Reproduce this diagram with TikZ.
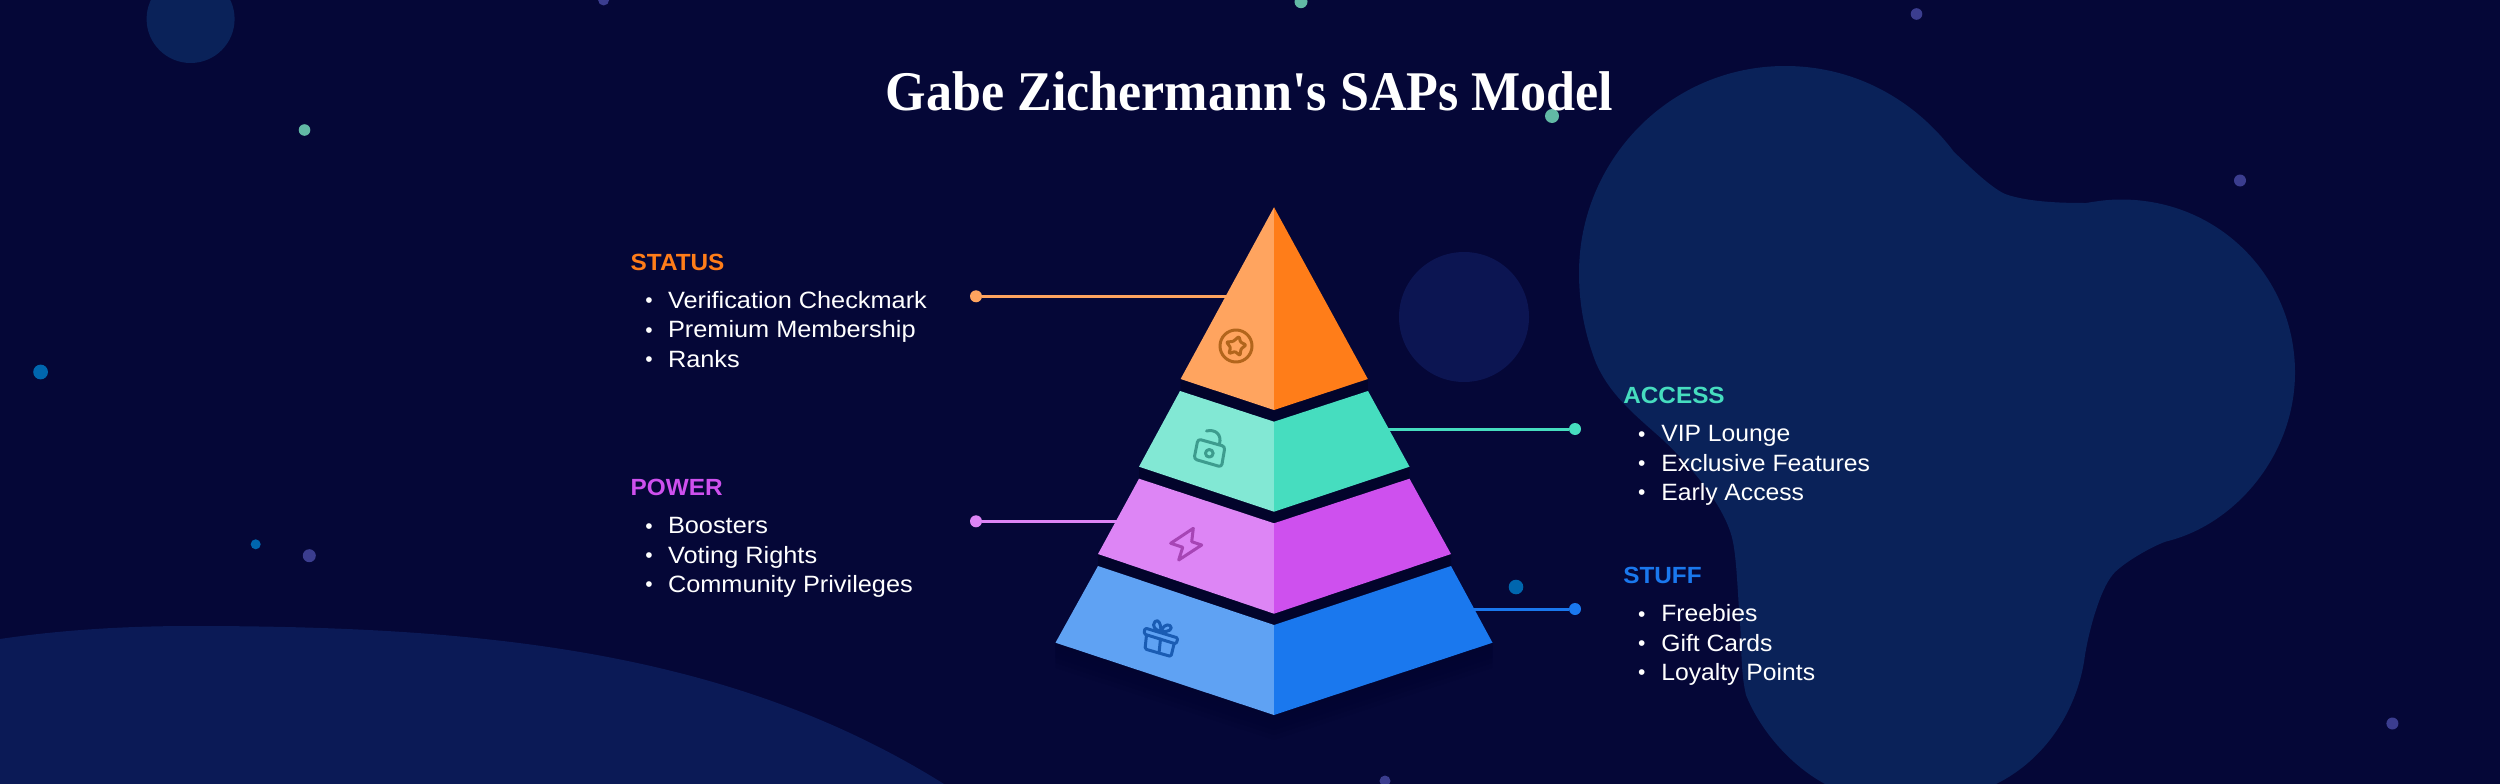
\documentclass[tikz,border=0pt]{standalone}
\usepackage{fontspec}
\setmainfont{Liberation Sans}
\newfontfamily\titlefont[FakeStretch=0.93]{Liberation Serif}
\newfontfamily\bodyL[FakeStretch=1.073]{Liberation Sans}
\newfontfamily\bodyR[FakeStretch=1.047]{Liberation Sans}
\newfontfamily\headf[FakeStretch=1.04]{Liberation Sans}
\definecolor{bgc}{HTML}{050737}
\definecolor{blobc}{HTML}{0A2259}
\definecolor{blobb}{HTML}{0B1A56}
\definecolor{circc}{HTML}{0C1552}
\definecolor{gapc}{HTML}{02042B}
\definecolor{dotblue}{HTML}{0066AE}
\definecolor{dotteal}{HTML}{62B9A5}
\definecolor{dotind}{HTML}{3B3D8F}
\definecolor{orL}{HTML}{FFA45F}
\definecolor{orR}{HTML}{FF7D19}
\definecolor{teL}{HTML}{82E8D4}
\definecolor{teR}{HTML}{46DDBF}
\definecolor{puL}{HTML}{DD85F5}
\definecolor{puR}{HTML}{CE50EE}
\definecolor{blL}{HTML}{5FA2F3}
\definecolor{blR}{HTML}{1A78EE}
\definecolor{icoOr}{HTML}{B2651C}
\definecolor{icoTe}{HTML}{3D9C8E}
\definecolor{icoPu}{HTML}{A645B5}
\definecolor{icoBl}{HTML}{1A5CB3}
\tikzset{
  txtL/.style={inner sep=0pt,outer sep=0pt,anchor=base west,font=\bodyL\fontsize{23.6}{24}\selectfont,text=white},
  txtR/.style={inner sep=0pt,outer sep=0pt,anchor=base west,font=\bodyR\fontsize{23.6}{24}\selectfont,text=white},
  bul/.style={inner sep=0pt,outer sep=0pt,anchor=base,font=\fontsize{21}{24}\selectfont,text=white},
  head/.style={inner sep=0pt,outer sep=0pt,anchor=base west,font=\headf\fontsize{23.4}{24}\selectfont\bfseries},
  enddot/.style={circle,inner sep=0pt,outer sep=0pt,minimum size=12pt,fill=#1},
  conn/.style={line width=3pt,draw=#1},
  icon/.style={line width=3pt,draw=#1,line join=round,line cap=round},
  ttl/.style={inner sep=0pt,outer sep=0pt,anchor=base,text=white,font=\titlefont\fontsize{56}{60}\selectfont\bfseries}
}
\begin{document}
\begin{tikzpicture}[x=1pt,y=-1pt]
\useasboundingbox (0,0) rectangle (2500,784);
\clip (0,0) rectangle (2500,784);
\fill[bgc] (0,0) rectangle (2500,784);
% background shapes
\fill[blobc] (1785,66) .. controls (1855,66) and (1915,100) .. (1954,152)
  .. controls (1970,167) and (1990,187) .. (2005,194)
  .. controls (2030,203) and (2070,203) .. (2086,203)
  .. controls (2098,201) and (2108,199.5) .. (2121,199.5)
  .. controls (2220,199.5) and (2295,278) .. (2295,372.5)
  .. controls (2295,455) and (2235,525) .. (2166,541.5)
  .. controls (2150,547) and (2120,565) .. (2112.5,575)
  .. controls (2100,590) and (2089,630) .. (2085,655)
  .. controls (2078,710) and (2045,760) .. (1996,784)
  -- (1825,784)
  .. controls (1790,765) and (1760,730) .. (1746,695)
  .. controls (1740,670) and (1742,640) .. (1739,609)
  .. controls (1737,580) and (1736,550) .. (1731,534)
  .. controls (1722,505) and (1695,470) .. (1662,439)
  .. controls (1635,415) and (1610,395) .. (1596,363)
  .. controls (1585,335) and (1579,305) .. (1579,273)
  .. controls (1579,160) and (1670,66) .. (1785,66) -- cycle;
\fill[blobb] (0,639) .. controls (60,630) and (125,626) .. (191,626)
  .. controls (480,626) and (730,650) .. (944,784) -- (0,784) -- cycle;
\fill[blobc] (190.6,19) circle[radius=44];
\fill[circc] (1464,317) circle[radius=65];
% dots
\foreach \x/\y/\r/\c in {304.5/130/5.8/dotteal,1301/1.7/6.5/dotteal,1552/116/7/dotteal,
  40.6/372/7.4/dotblue,255.7/544.3/5/dotblue,1516/587/7.3/dotblue,
  603.6/0/5.5/dotind,309.3/555.7/6.5/dotind,1916.5/14/5.8/dotind,2240/180.5/6/dotind,2392.4/723.5/6/dotind,1385/781/5.5/dotind}
  \fill[\c] (\x,\y) circle[radius=\r];
% pyramid shadows
\foreach \d in {5,10,15,20,25}
  \fill[gapc,fill opacity=0.10] (1055.5,642.7) -- (1055.5,642.7+\d) -- (1274,715+\d) -- (1492.5,642.7+\d) -- (1492.5,642.7) -- cycle;
\fill[gapc] (1180.6,379) -- (1180.6,391) -- (1274,422) -- (1367.8,391) -- (1367.8,379) -- (1274,410) -- cycle;
\fill[gapc] (1139,466.7) -- (1139,479) -- (1274,524) -- (1409.5,479) -- (1409.5,466.7) -- (1274,511.7) -- cycle;
\fill[gapc] (1098,554) -- (1098,566) -- (1274,625.5) -- (1451,566) -- (1451,554) -- (1274,613.7) -- cycle;
% connectors (under pyramid)
\node[enddot=orL] (statusdot) at (976,296.3) {};
\coordinate (statusend) at (1235,296.3);
\draw[conn=orL] (statusdot) -- (statusend);
\node[enddot=teR] (accessdot) at (1575,429) {};
\coordinate (accessend) at (1380,429);
\draw[conn=teR] (accessdot) -- (accessend);
\node[enddot=puL] (powerdot) at (976,521.3) {};
\coordinate (powerend) at (1125,521.3);
\draw[conn=puL] (powerdot) -- (powerend);
\node[enddot=blR] (stuffdot) at (1575,609) {};
\coordinate (stuffend) at (1465,609);
\draw[conn=blR] (stuffdot) -- (stuffend);
% pyramid
\fill[orL] (1274,207.3) -- (1180.6,379) -- (1274,410) -- cycle;
\fill[orR] (1274,207.3) -- (1367.8,379) -- (1274,410) -- cycle;
\fill[teL] (1274,421.7) -- (1180,391) -- (1139,466.7) -- (1274,511.7) -- cycle;
\fill[teR] (1274,421.7) -- (1368,391) -- (1409.5,466.7) -- (1274,511.7) -- cycle;
\fill[puL] (1274,523.3) -- (1139,478.7) -- (1098,554) -- (1274,613.7) -- cycle;
\fill[puR] (1274,523.3) -- (1409.5,478.7) -- (1451,554) -- (1274,613.7) -- cycle;
\fill[blL] (1274,625) -- (1098,566) -- (1055.5,642.7) -- (1274,715) -- cycle;
\fill[blR] (1274,625) -- (1451,566) -- (1492.5,642.7) -- (1274,715) -- cycle;
% icons
\draw[icon=icoOr] (1236,346) circle[radius=16];
\draw[icon=icoOr,rounded corners=1pt] (1239,336.5) -- (1240.5,342) -- (1246,345) -- (1241,349) -- (1240,355.5) -- (1235,351.5) -- (1229,353.5) -- (1230.5,347.5) -- (1226.5,342) -- (1233,341.5) -- cycle;
\draw[icon=icoTe,rounded corners=3pt] (1198,439) -- (1225,446.5) -- (1221.5,467) -- (1194,459) -- cycle;
\draw[icon=icoTe] (1209.3,453.3) circle[radius=3.8];
\draw[icon=icoTe] (1219.5,444) .. controls (1222,434) and (1215,429) .. (1206.5,431);
\draw[icon=icoPu] (1193.3,528.3) -- (1170.7,543.3) -- (1182.7,547.3) -- (1178.7,560) -- (1201.7,545) -- (1191.7,541.7) -- cycle;
\draw[icon=icoBl,rounded corners=1.5pt] (1145,628) -- (1178,638) -- (1176,644) -- (1144,634) -- cycle;
\draw[icon=icoBl,rounded corners=1.5pt] (1146.5,635) -- (1145,649) -- (1171,656.5) -- (1174,644);
\draw[icon=icoBl] (1160.5,639) -- (1159,653);
\draw[icon=icoBl] (1161,631) .. controls (1156,631) and (1151,626) .. (1155,621.5) .. controls (1158.5,618.5) and (1161,624) .. (1161,631);
\draw[icon=icoBl] (1161,631) .. controls (1163,627) and (1166,623.5) .. (1170,625.5) .. controls (1173.5,628.5) and (1169,633) .. (1161,631);
% texts
\node[ttl] (title) at (1249.6,110.7) {Gabe Zichermann's SAPs Model};
\node[head,text=orR] (h1) at (630.7,270.7) {STATUS};
\node[bul] (b11) at (649,307.5) {•}; \node[txtL] (t11) at (668,308.3) {Verification Checkmark};
\node[bul] (b12) at (649,337) {•}; \node[txtL] (t12) at (668,337.7) {Premium Membership};
\node[bul] (b13) at (649,366.3) {•}; \node[txtL] (t13) at (668,367) {Ranks};
\node[head,text=puR] (h2) at (630.7,495.7) {POWER};
\node[bul] (b21) at (649,533) {•}; \node[txtL] (t21) at (668,533.7) {Boosters};
\node[bul] (b22) at (649,562.3) {•}; \node[txtL] (t22) at (668,563) {Voting Rights};
\node[bul] (b23) at (649,591.6) {•}; \node[txtL] (t23) at (668,592.3) {Community Privileges};
\node[head,text=teR] (h3) at (1623.3,403.3) {ACCESS};
\node[bul] (b31) at (1641.7,441) {•}; \node[txtR] (t31) at (1661.3,441.7) {VIP Lounge};
\node[bul] (b32) at (1641.7,470.3) {•}; \node[txtR] (t32) at (1661.3,471) {Exclusive Features};
\node[bul] (b33) at (1641.7,499.3) {•}; \node[txtR] (t33) at (1661.3,500) {Early Access};
\node[head,text=blR] (h4) at (1623.3,583.3) {STUFF};
\node[bul] (b41) at (1641.7,621) {•}; \node[txtR] (t41) at (1661.3,621.7) {Freebies};
\node[bul] (b42) at (1641.7,650.3) {•}; \node[txtR] (t42) at (1661.3,651) {Gift Cards};
\node[bul] (b43) at (1641.7,679.3) {•}; \node[txtR] (t43) at (1661.3,680) {Loyalty Points};
\end{tikzpicture}
\end{document}
